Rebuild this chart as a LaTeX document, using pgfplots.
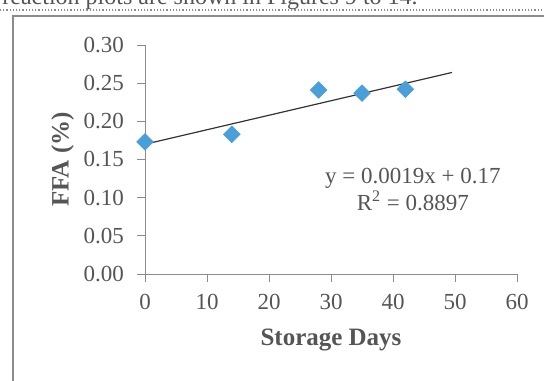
\documentclass[border=0pt]{standalone}
\usepackage{pgfplots}
\pgfplotsset{compat=1.18}
\usepackage{fontspec}
\setmainfont{Liberation Serif}
\definecolor{mk}{HTML}{4A9FD8}
\definecolor{ax}{HTML}{8C8C8C}
\definecolor{tx}{HTML}{555555}
\begin{document}
\begin{tikzpicture}
\useasboundingbox (0,0) rectangle (272pt,190pt);
\clip (0,0) rectangle (272pt,190pt);
% page context
\node[anchor=base west, inner sep=0pt, font=\fontsize{12}{14}\selectfont, text=tx] at (1pt,187.8pt) {reaction plots are shown in Figures 9 to 14.};
\draw[ax, densely dotted, line width=0.6pt] (0,185pt) -- (272pt,185pt);
\draw[black!45, line width=0.7pt] (6.5pt,-5pt) rectangle (285pt,182pt);
\begin{axis}[
  at={(72.5pt,53pt)}, anchor=origin,
  scale only axis, width=186pt, height=114.5pt,
  xmin=0, xmax=60, ymin=0, ymax=0.30,
  axis x line*=bottom, axis y line*=left,
  axis line style={ax, line width=0.5pt, -},
  xtick={0,10,...,60}, ytick={0,0.05,...,0.30},
  tick align=outside, major tick length=4pt,
  tick style={ax, line width=0.5pt},
  /pgf/number format/assume math mode=true,
  /pgf/number format/fixed, /pgf/number format/fixed zerofill, /pgf/number format/precision=2,
  xticklabel={\pgfmathprintnumber[fixed,precision=0]{\tick}},
  tick label style={font=\fontsize{11.5}{13}\selectfont, text=tx},
  xticklabel style={yshift=-2.5pt},
  yticklabel style={xshift=-3pt},
  xlabel={\textbf{Storage Days}}, ylabel={\textbf{FFA (\%)}},
  label style={font=\fontsize{12.5}{14}\selectfont, text=tx},
  xlabel style={yshift=-3pt},
  ylabel style={yshift=-2pt},
  clip=false,
]
\addplot[black!80, line width=0.6pt] coordinates {(0,0.170) (49.5,0.264)};
\addplot[only marks, mark=square*, mark size=2.9pt, mark options={rotate=45, fill=mk, draw=mk}] coordinates {
(0,0.173) (14,0.183) (28,0.241) (35,0.237) (42,0.242)};
\node[align=center, text=tx, font=\fontsize{11.5}{13.5}\selectfont] at (axis cs:43.2,0.111) {y = 0.0019x + 0.17\\R\textsuperscript{2} = 0.8897};
\end{axis}
\end{tikzpicture}
\end{document}
